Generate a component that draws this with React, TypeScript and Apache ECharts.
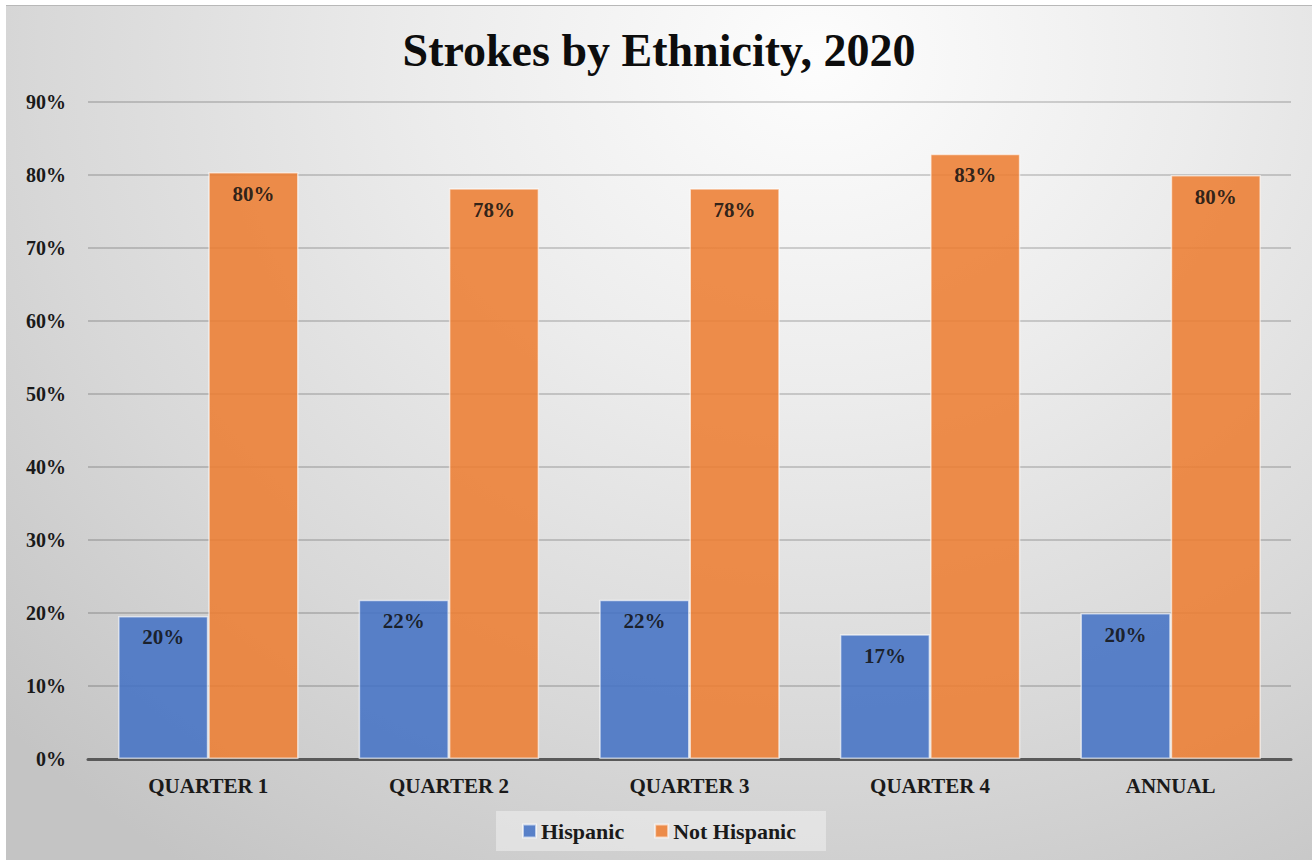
import React, { useEffect, useRef } from "react";
import * as echarts from "echarts";

const categories = ["QUARTER 1", "QUARTER 2", "QUARTER 3", "QUARTER 4", "ANNUAL"];
const hispanic = [19.6, 21.8, 21.8, 17.1, 20.0];
const notHispanic = [80.4, 78.2, 78.2, 82.9, 80.0];
const seriesNames = ["Hispanic", "Not Hispanic"];
const titleText = "Strokes by Ethnicity, 2020";

const FONT = "'Palatino Linotype', 'Book Antiqua', Palatino, 'Liberation Serif', serif";

export default function App() {
  const ref = useRef<HTMLDivElement>(null);
  useEffect(() => {
    document.body.style.margin = "0";
    const chart = echarts.init(ref.current!, undefined, { renderer: "svg" });
    const label = {
      show: true,
      position: "insideTop",
      distance: 11,
      color: "#111",
      fontFamily: FONT,
      fontSize: 21,
      fontWeight: "bold",
      formatter: (p: any) => Math.round(p.value) + "%",
    };
    chart.setOption({
      animation: false,
      backgroundColor: "transparent",
      title: {
        text: titleText,
        left: "center",
        top: 16,
        textStyle: { fontFamily: FONT, fontSize: 46, fontWeight: "bold", color: "#0d0d0d" },
      },
      legend: {
        data: seriesNames,
        bottom: 9,
        left: "center",
        icon: "rect",
        itemWidth: 13,
        itemHeight: 13,
        itemGap: 30,
        padding: [9, 30, 9, 26],
        backgroundColor: "rgba(240,240,240,0.55)",
        textStyle: { fontFamily: FONT, fontSize: 22, fontWeight: "bold", color: "#1a1a1a" },
      },
      grid: { left: 82, right: 21, top: 96, bottom: 101 },
      xAxis: {
        type: "category",
        data: categories,
        axisLine: { lineStyle: { color: "#595959", width: 3 } },
        axisTick: { show: false },
        axisLabel: {
          margin: 16,
          fontFamily: FONT,
          fontSize: 21,
          fontWeight: "bold",
          color: "#1a1a1a",
        },
      },
      yAxis: {
        type: "value",
        min: 0,
        max: 90,
        interval: 10,
        axisLine: { show: false },
        axisTick: { show: false },
        axisLabel: {
          formatter: "{value}%",
          margin: 22,
          fontFamily: FONT,
          fontSize: 20,
          fontWeight: "bold",
          color: "#1a1a1a",
        },
        splitLine: { lineStyle: { color: "rgba(0,0,0,0.16)", width: 2 } },
      },
      series: [
        {
          name: seriesNames[0],
          type: "bar",
          data: hispanic,
          barGap: "0%",
          barCategoryGap: "25%",
          itemStyle: {
            color: "#4472C4",
            opacity: 0.87,
            borderColor: "rgba(255,255,255,0.7)",
            borderWidth: 1.5,
          },
          label,
        },
        {
          name: seriesNames[1],
          type: "bar",
          data: notHispanic,
          barGap: "0%",
          barCategoryGap: "25%",
          itemStyle: {
            color: "#ED7D31",
            opacity: 0.87,
            borderColor: "rgba(255,255,255,0.7)",
            borderWidth: 1.5,
          },
          label,
        },
      ],
    });
    return () => chart.dispose();
  }, []);
  return (
    <div style={{ position: "relative", width: 1312, height: 860, background: "#fff", overflow: "hidden" }}>
      <div
        style={{
          position: "absolute",
          left: 6,
          top: 5,
          width: 1306,
          height: 855,
          borderTop: "1px solid #b8b8b8",
          boxSizing: "border-box",
          background:
            "radial-gradient(ellipse 85% 115% at 62% 6%, #fdfdfd 0%, #ececec 35%, #d8d8d8 70%, #c4c4c4 100%)",
        }}
      >
        <div ref={ref} style={{ width: 1306, height: 854 }} />
      </div>
    </div>
  );
}
